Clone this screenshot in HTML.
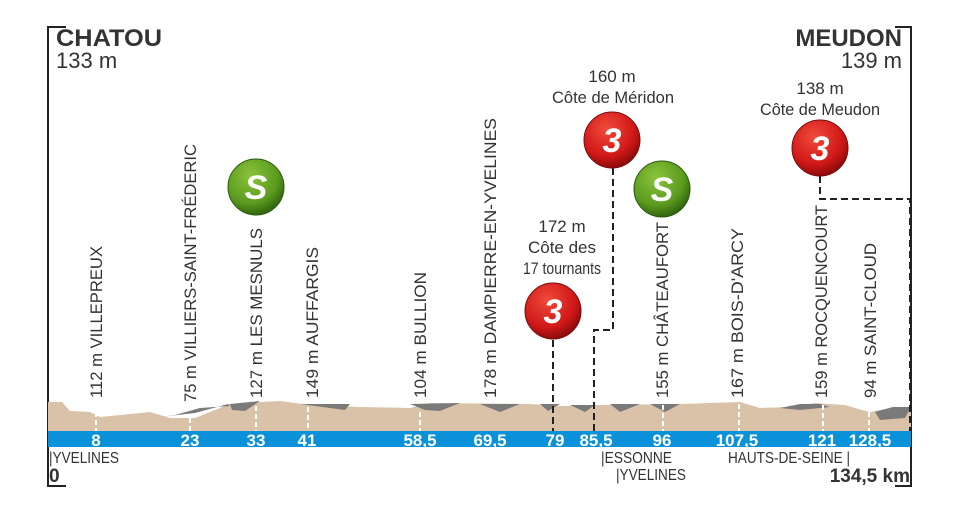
<!DOCTYPE html>
<html><head><meta charset="utf-8"><style>
html,body{margin:0;padding:0;background:#fff}
svg{display:block}
text{font-family:"Liberation Sans Narrow","Liberation Sans",sans-serif;fill:#333}
</style></head><body>
<svg width="960" height="511" viewBox="0 0 960 511" xmlns="http://www.w3.org/2000/svg">
<defs>
<radialGradient id="rg" cx="40%" cy="30%" r="70%"><stop offset="0" stop-color="#f04a3a"/><stop offset="0.7" stop-color="#d01818"/><stop offset="1" stop-color="#8e0c0c"/></radialGradient>
<radialGradient id="gg" cx="40%" cy="30%" r="70%"><stop offset="0" stop-color="#8cc43c"/><stop offset="0.7" stop-color="#5a9a1e"/><stop offset="1" stop-color="#336610"/></radialGradient>
</defs>
<path d="M66 27H48V486H66" fill="none" stroke="#222" stroke-width="2"/>
<path d="M895 27H911V486H895" fill="none" stroke="#222" stroke-width="2"/>
<g>
<text x="56" y="46" font-size="24" font-weight="bold" textLength="106" lengthAdjust="spacingAndGlyphs" style="font-family:'Liberation Sans',sans-serif;fill:#333">CHATOU</text>
<text x="56" y="68" font-size="22" style="font-family:'Liberation Sans',sans-serif;fill:#333">133 m</text>
<text x="902" y="46" font-size="24" font-weight="bold" text-anchor="end" style="font-family:'Liberation Sans',sans-serif;fill:#333">MEUDON</text>
<text x="902" y="68" font-size="22" text-anchor="end" style="font-family:'Liberation Sans',sans-serif;fill:#333">139 m</text>
</g>
<path d="M48 431V402L62 402L70 411L90 412L100 417L150 412L170 418L195 418L230 404L280 401L310 405L360 407L410 408L430 403L530 404L560 406L600 405L680 404L740 402L760 408L790 407L815 403L845 405L858 409L870 412L885 409L893 407L911 407V431Z" fill="#d9c2a8"/>
<path d="M160 417L175 415L200 408L230 406L228 404L195 413Z M230 404L260 401L245 411L232 410Z M300 404L350 404L345 410Z M410 404L460 403L440 411L425 410Z M480 404L520 404L500 412Z M540 404L560 404L548 411Z M570 405L595 405L585 412Z M610 404L640 404L620 412Z M650 404L680 404L665 412Z M780 408L800 404L820 404L830 407L800 410Z M875 412L893 407L911 407L905 418L880 420Z" fill="#7a7a7a"/>
<rect x="48" y="431" width="863" height="16" fill="#0b91d9"/>
<g font-size="17" font-weight="bold" text-anchor="middle">
<text x="96" y="446" style="fill:#fff">8</text><text x="190" y="446" style="fill:#fff">23</text><text x="256" y="446" style="fill:#fff">33</text><text x="307" y="446" style="fill:#fff">41</text><text x="420" y="446" style="fill:#fff">58,5</text><text x="490" y="446" style="fill:#fff">69,5</text><text x="555" y="446" style="fill:#fff">79</text><text x="596" y="446" style="fill:#fff">85,5</text><text x="662" y="446" style="fill:#fff">96</text><text x="737" y="446" style="fill:#fff">107,5</text><text x="822" y="446" style="fill:#fff">121</text><text x="870" y="446" style="fill:#fff">128,5</text>
</g>
<g font-size="16" lengthAdjust="spacingAndGlyphs">
<text x="49" y="463" textLength="70" lengthAdjust="spacingAndGlyphs">|YVELINES</text>
<text x="601" y="463" textLength="71" lengthAdjust="spacingAndGlyphs">|ESSONNE</text>
<text x="616" y="480" textLength="70" lengthAdjust="spacingAndGlyphs">|YVELINES</text>
<text x="728" y="463" textLength="122" lengthAdjust="spacingAndGlyphs">HAUTS-DE-SEINE |</text>
</g>
<text x="49" y="482" font-size="19" font-weight="bold" style="font-family:'Liberation Sans',sans-serif;fill:#333">0</text>
<text x="910" y="482" font-size="19" font-weight="bold" text-anchor="end" style="font-family:'Liberation Sans',sans-serif;fill:#333">134,5 km</text>
<g stroke="#fff" stroke-width="2" stroke-dasharray="5,3">
<line x1="96" y1="412" x2="96" y2="431"/><line x1="190" y1="418" x2="190" y2="431"/><line x1="256" y1="406" x2="256" y2="431"/><line x1="308" y1="407" x2="308" y2="431"/><line x1="420" y1="412" x2="420" y2="431"/><line x1="663" y1="405" x2="663" y2="431"/><line x1="739" y1="404" x2="739" y2="431"/><line x1="823" y1="405" x2="823" y2="431"/><line x1="869" y1="412" x2="869" y2="431"/>
</g>
<g stroke="#222" stroke-width="2" stroke-dasharray="7,4" fill="none">
<path d="M553 340V431"/>
<path d="M613 168V330H594V431"/>
<path d="M820 176V199H910V431"/>
</g>
<g font-size="17">
<text transform="translate(102,398) rotate(-90)" textLength="152" lengthAdjust="spacingAndGlyphs">112 m VILLEPREUX</text>
<text transform="translate(196,402) rotate(-90)" textLength="258" lengthAdjust="spacingAndGlyphs">75 m VILLIERS-SAINT-FRÉDERIC</text>
<text transform="translate(262,398) rotate(-90)" textLength="170" lengthAdjust="spacingAndGlyphs">127 m LES MESNULS</text>
<text transform="translate(318,398) rotate(-90)" textLength="151" lengthAdjust="spacingAndGlyphs">149 m AUFFARGIS</text>
<text transform="translate(426,398) rotate(-90)" textLength="126" lengthAdjust="spacingAndGlyphs">104 m BULLION</text>
<text transform="translate(496,398) rotate(-90)" textLength="280" lengthAdjust="spacingAndGlyphs">178 m DAMPIERRE-EN-YVELINES</text>
<text transform="translate(668,398) rotate(-90)" textLength="176" lengthAdjust="spacingAndGlyphs">155 m CHÂTEAUFORT</text>
<text transform="translate(743,398) rotate(-90)" textLength="170" lengthAdjust="spacingAndGlyphs">167 m BOIS-D'ARCY</text>
<text transform="translate(827,398) rotate(-90)" textLength="193" lengthAdjust="spacingAndGlyphs">159 m ROCQUENCOURT</text>
<text transform="translate(876,398) rotate(-90)" textLength="155" lengthAdjust="spacingAndGlyphs">94 m   SAINT-CLOUD</text>
</g>
<g font-weight="bold" font-style="italic" font-size="34" text-anchor="middle">
<circle cx="256" cy="187" r="28" fill="url(#gg)" stroke="#2a5a0e"/><text x="256" y="199" style="fill:#fff;font-family:'Liberation Sans',sans-serif">S</text>
<circle cx="662" cy="189" r="28" fill="url(#gg)" stroke="#2a5a0e"/><text x="662" y="201" style="fill:#fff;font-family:'Liberation Sans',sans-serif">S</text>
<circle cx="612" cy="140" r="28" fill="url(#rg)" stroke="#7a0a0a"/><text x="612" y="152" style="fill:#fff;font-family:'Liberation Sans',sans-serif">3</text>
<circle cx="553" cy="311" r="28" fill="url(#rg)" stroke="#7a0a0a"/><text x="553" y="323" style="fill:#fff;font-family:'Liberation Sans',sans-serif">3</text>
<circle cx="820" cy="148" r="28" fill="url(#rg)" stroke="#7a0a0a"/><text x="820" y="160" style="fill:#fff;font-family:'Liberation Sans',sans-serif">3</text>
</g>
<g font-size="17" text-anchor="middle">
<text x="612" y="82">160 m</text><text x="613" y="103" textLength="122" lengthAdjust="spacingAndGlyphs">Côte de Méridon</text>
<text x="820" y="94">138 m</text><text x="820" y="115" textLength="120" lengthAdjust="spacingAndGlyphs">Côte de Meudon</text>
<text x="562" y="232">172 m</text><text x="562" y="253">Côte des</text><text x="562" y="274" textLength="78" lengthAdjust="spacingAndGlyphs">17 tournants</text>
</g>
</svg>
</body></html>
